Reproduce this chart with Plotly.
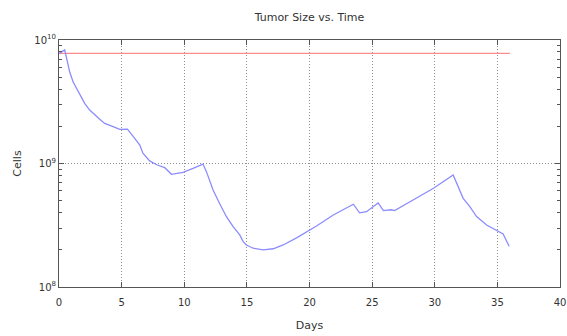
import plotly.graph_objects as go

days = [0, 0.45, 0.67, 0.85, 1.12, 1.39, 1.73, 2.05, 2.45, 2.85, 3.25, 3.65, 4.05, 4.32, 4.85,
        5.46, 6.0, 6.45, 6.7, 7.24, 7.8, 8.44, 8.98, 9.9, 10.7, 11.5, 11.77, 12.04, 12.3, 12.84,
        13.37, 13.9, 14.43, 14.7, 14.96, 15.5, 16.3, 17.1, 17.9, 19.0, 20.0, 20.56, 21.9, 23.5,
        24.0, 24.55, 25.48, 25.9, 26.5, 26.8, 28.27, 29.9, 31.47, 31.87, 32.27, 32.8, 33.34,
        34.14, 34.94, 35.46, 35.94]
cells = [7.76e9, 8.32e9, 6.67e9, 5.53e9, 4.59e9, 4.06e9, 3.48e9, 3.07e9, 2.71e9, 2.47e9, 2.28e9,
         2.11e9, 2.02e9, 1.99e9, 1.89e9, 1.90e9, 1.62e9, 1.41e9, 1.21e9, 1.05e9, 9.77e8, 9.25e8,
         8.18e8, 8.49e8, 9.12e8, 9.89e8, 8.59e8, 7.26e8, 6.10e8, 4.70e8, 3.71e8, 3.08e8, 2.64e8,
         2.33e8, 2.19e8, 2.06e8, 2.00e8, 2.04e8, 2.19e8, 2.51e8, 2.88e8, 3.12e8, 3.83e8, 4.68e8,
         3.98e8, 4.07e8, 4.79e8, 4.15e8, 4.22e8, 4.15e8, 5.06e8, 6.31e8, 8.07e8, 6.49e8, 5.22e8,
         4.47e8, 3.72e8, 3.18e8, 2.86e8, 2.69e8, 2.14e8]
limit_days = [0, 36]
limit_cells = [7.8e9, 7.8e9]
y_tickvals = [1e8, 1e9, 1e10]
y_ticktext = ["10<sup>8</sup>", "10<sup>9</sup>", "10<sup>10</sup>"]
minor_vals = [2e8, 3e8, 4e8, 5e8, 6e8, 7e8, 8e8, 9e8, 2e9, 3e9, 4e9, 5e9, 6e9, 7e9, 8e9, 9e9]

font = "DejaVu Sans"
fig = go.Figure()
fig.add_trace(go.Scatter(x=limit_days, y=limit_cells, mode="lines",
                         line=dict(color="#ff8a8a", width=1.3), showlegend=False))
fig.add_trace(go.Scatter(x=days, y=cells, mode="lines",
                         line=dict(color="#8c8cff", width=1.3), showlegend=False))

fig.update_layout(
    width=567, height=336,
    margin=dict(l=59, r=7, t=40, b=49),
    paper_bgcolor="white", plot_bgcolor="white",
    font=dict(family=font, size=11, color="#333333"),
    title=dict(text="Tumor Size vs. Time", x=0.5, xref="paper", xanchor="center",
               y=1 - 17/336, yanchor="middle",
               font=dict(family=font, size=11, color="#333333")),
)
fig.update_xaxes(range=[0, 40], dtick=5, tick0=0, showline=True, linecolor="#555555",
                 linewidth=1, mirror="ticks", ticks="inside", ticklen=5, tickcolor="#555555",
                 showgrid=True, gridcolor="#909090", griddash="1px,2px", gridwidth=1, zeroline=False,
                 automargin=False, ticklabeloverflow="allow", ticklabelstandoff=6,
                 title=dict(text="Days", standoff=14, font=dict(size=11)),
                 tickfont=dict(size=10))
fig.update_yaxes(type="log", range=[8, 10], tickmode="array", tickvals=y_tickvals,
                 ticktext=y_ticktext, showline=True,
                 linecolor="#555555", linewidth=1, mirror="ticks", ticks="inside", ticklen=5,
                 tickcolor="#555555", showgrid=True, gridcolor="#909090", griddash="1px,2px",
                 gridwidth=1, zeroline=False, automargin=False, ticklabeloverflow="allow",
                 minor=dict(ticks="inside", ticklen=3, tickmode="array", tickvals=minor_vals,
                            tickcolor="#555555", showgrid=False),
                 title=dict(text="Cells", standoff=10, font=dict(size=11)),
                 tickfont=dict(size=10))

fig.write_html("out.html", config={"displayModeBar": False},
               post_script="document.body.style.margin='0px';")
